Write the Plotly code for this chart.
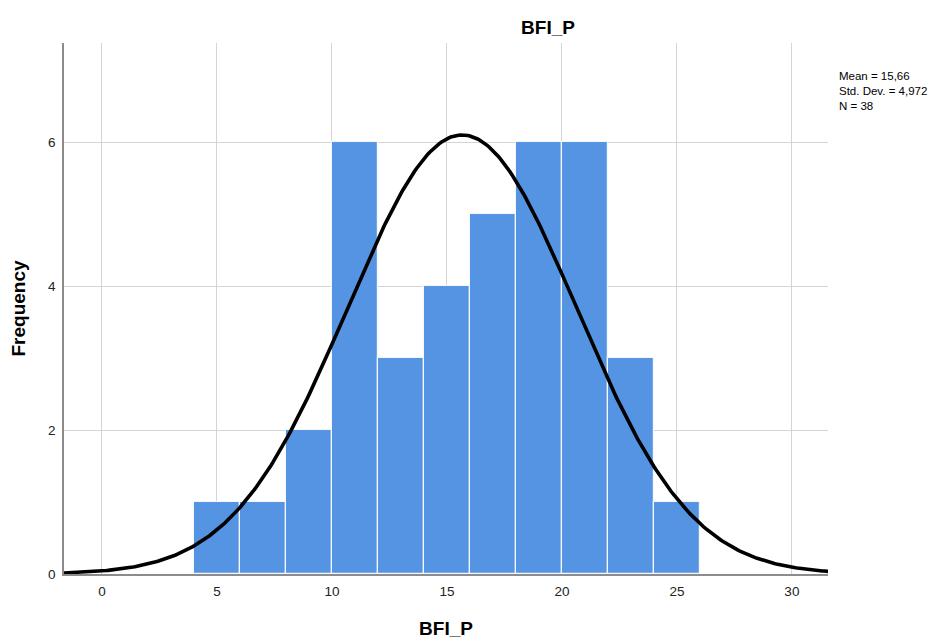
import numpy as np
import plotly.graph_objects as go

# Data
bin_starts = [4, 6, 8, 10, 12, 14, 16, 18, 20, 22, 24]
frequencies = [1, 1, 2, 6, 3, 4, 5, 6, 6, 3, 1]
bin_width = 2
mean_val = 15.66
std_val = 4.972
n_val = 38
x_ticks = [0, 5, 10, 15, 20, 25, 30]
y_ticks = [0, 2, 4, 6]
stats_lines = ["Mean = 15,66", "Std. Dev. = 4,972", "N = 38"]

x_range = [-1.65, 31.57]
y_range = [0, 7.375]

# Fitted normal curve scaled to counts
xc = np.linspace(x_range[0], x_range[1], 400)
yc = n_val * bin_width / (std_val * np.sqrt(2 * np.pi)) * np.exp(-0.5 * ((xc - mean_val) / std_val) ** 2)

FONT = "Liberation Sans, Arial, sans-serif"

# page offset (body margin) of 8px
OFF = 8
W, H = 952 - OFF, 641 - OFF
L, T, R, B = 64 - OFF, 43 - OFF, 124, 67
PW, PH = W - L - R, H - T - B

fig = go.Figure()
fig.add_trace(go.Bar(
    x=bin_starts, y=frequencies, width=bin_width, offset=0,
    marker=dict(color="#5594E3", line=dict(color="#F4F8FE", width=1.2)),
    hoverinfo="skip", showlegend=False,
))
fig.add_trace(go.Scatter(
    x=xc, y=yc, mode="lines", line=dict(color="black", width=3.6),
    hoverinfo="skip", showlegend=False,
))

fig.update_layout(
    width=W, height=H,
    margin=dict(l=L, r=R, t=T, b=B, autoexpand=False),
    plot_bgcolor="white", paper_bgcolor="white",
    font=dict(family=FONT, color="#222"),
    title=dict(text="<b>BFI_P</b>", x=(548 - OFF) / W, xref="container", xanchor="center",
               y=1 - (27 - OFF) / H, yref="container", yanchor="middle",
               font=dict(size=19, color="black", family=FONT)),
    bargap=0,
    xaxis=dict(range=x_range, tickvals=x_ticks, ticktext=[str(v) for v in x_ticks],
               showgrid=True, gridcolor="#D4D4D4", gridwidth=1.3,
               showline=True, linecolor="#8C8C8C", linewidth=1.5,
               zeroline=False, ticks="", ticklabelstandoff=4, automargin=False,
               tickfont=dict(size=13.5, color="#222"),
               title=dict(text="<b>BFI_P</b>", font=dict(size=19, color="black"), standoff=24)),
    yaxis=dict(range=y_range, tickvals=y_ticks, ticktext=[str(v) for v in y_ticks],
               showgrid=True, gridcolor="#D4D4D4", gridwidth=1.3,
               showline=True, linecolor="#8C8C8C", linewidth=1.5,
               zeroline=False, ticks="", ticklabelstandoff=4, automargin=False,
               tickfont=dict(size=13.5, color="#222"),
               title=dict(text="<b>Frequency</b>", font=dict(size=19, color="black"), standoff=20)),
)

fig.add_annotation(text="<br>".join(stats_lines), xref="paper", yref="paper",
                   x=(837 - 64) / PW, y=(574 - 91.3) / PH,
                   xanchor="left", yanchor="middle", align="left", showarrow=False,
                   font=dict(size=11.5, color="black", family=FONT))

fig.write_html("out.html")
